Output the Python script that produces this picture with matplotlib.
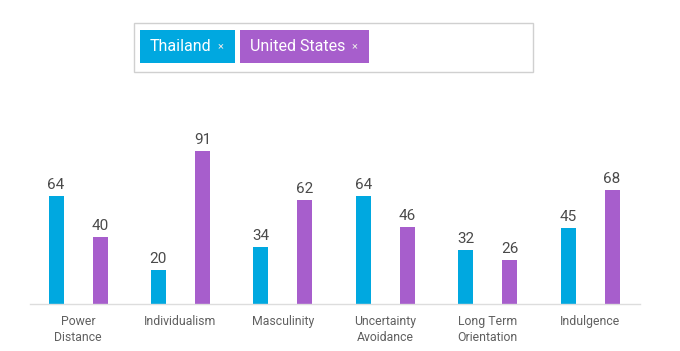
import matplotlib.pyplot as plt
from matplotlib.patches import Rectangle

categories = ["Power\nDistance", "Individualism", "Masculinity",
              "Uncertainty\nAvoidance", "Long Term\nOrientation", "Indulgence"]
thailand = [64, 20, 34, 64, 32, 45]
united_states = [40, 91, 62, 46, 26, 68]
countries = ["Thailand", "United States"]

BLUE = "#00a8e0"
PURPLE = "#a75ecc"

plt.rcParams['font.family'] = ['Roboto', 'DejaVu Sans']

W, H = 680, 351
fig = plt.figure(figsize=(W / 100, H / 100), dpi=100)

# axes placed in pixel coords: x 30..640, baseline at y=304, 100 units = 168 px
left, right, base, top = 30, 640, 304, 136
ax = fig.add_axes([left / W, (H - base) / H, (right - left) / W, (base - top) / H])

step = 102.4
xlo = (left - 78) / step
xhi = (right - 78) / step
off = 22 / step
bw = 15 / step

x = list(range(len(categories)))
ax.bar([i - off for i in x], thailand, width=bw, color=BLUE)
ax.bar([i + off for i in x], united_states, width=bw, color=PURPLE)

for i in x:
    ax.annotate(str(thailand[i]), (i - off, thailand[i]), xytext=(0, 3),
                textcoords="offset points", ha="center", va="bottom",
                fontsize=11, color="#4a4a4a")
    ax.annotate(str(united_states[i]), (i + off, united_states[i]), xytext=(0, 3),
                textcoords="offset points", ha="center", va="bottom",
                fontsize=11, color="#4a4a4a")

ax.set_xlim(xlo, xhi)
ax.set_ylim(0, 100)
ax.set_xticks(x)
ax.set_xticklabels(categories, fontsize=8.8, color="#606060", linespacing=1.25)
ax.tick_params(axis="x", length=0, pad=8)
ax.set_yticks([])
for s in ["top", "right", "left"]:
    ax.spines[s].set_visible(False)
ax.spines["bottom"].set_color("#dddddd")
ax.spines["bottom"].set_linewidth(1)

# legend box with chips, drawn in figure pixel coords
def px(xp, yp):
    return xp / W, (H - yp) / H

bx, by = px(134, 72)
fig.patches.append(Rectangle((bx, by), (533 - 134) / W, (72 - 23) / H,
                             transform=fig.transFigure, facecolor="white",
                             edgecolor="#d0d0d0", linewidth=1))
chips = [(140, 235, BLUE), (240, 369, PURPLE)]
for name, (x0, x1, c) in zip(countries, chips):
    cx, cy = px(x0, 63)
    fig.patches.append(Rectangle((cx, cy), (x1 - x0) / W, 33 / H,
                                 transform=fig.transFigure, facecolor=c,
                                 edgecolor="none"))
    tx, ty = px(x0 + 10, 46.5)
    fig.text(tx, ty, name, color="white", fontsize=11.5, va="center", ha="left")
    ex, ey = px(x1 - 14, 46.5)
    fig.text(ex, ey, "\u00d7", color="#e8e8e8", fontsize=8, va="center", ha="center")

fig.savefig("out.png", dpi=100)
